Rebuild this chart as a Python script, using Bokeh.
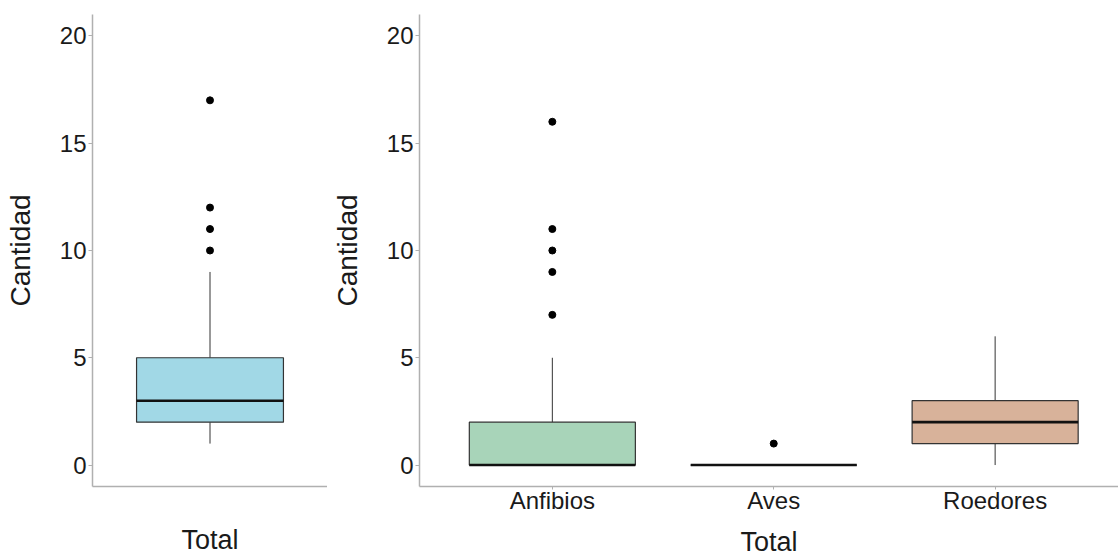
from bokeh.plotting import figure
from bokeh.layouts import row
from bokeh.models import Range1d, FixedTicker
from bokeh.embed import file_html
from bokeh.resources import INLINE

# ---- data ----
left_categories = ["Total"]
left_q1 = [2]
left_median = [3]
left_q3 = [5]
left_lower = [1]
left_upper = [9]
left_outliers = {"Total": [10, 11, 12, 17]}
left_colors = ["#A1D8E6"]

right_categories = ["Anfibios", "Aves", "Roedores"]
right_q1 = [0, 0, 1]
right_median = [0, 0, 2]
right_q3 = [2, 0, 3]
right_lower = [0, 0, 0]
right_upper = [5, 0, 6]
right_outliers = {"Anfibios": [7, 9, 10, 11, 16], "Aves": [1], "Roedores": []}
right_colors = ["#A8D4B9", "#A8D4B9", "#D8B29A"]

y_ticks = [0, 5, 10, 15, 20]
y_label = "Cantidad"
x_label = "Total"

FONT = "Liberation Sans"
TEXT_COLOR = "#1A1A1A"
AXIS_COLOR = "#B0B0B0"
BOX_W = 0.75


def make_panel(cats, q1, med, q3, lo, hi, outl, colors, frame_w, x_end,
               min_left, min_right, show_ticks):
    p = figure(frame_width=frame_w, frame_height=472,
               x_range=Range1d(0.4, x_end), y_range=Range1d(-1, 21),
               output_backend="svg", toolbar_location=None,
               min_border_left=min_left, min_border_right=min_right,
               min_border_top=14, min_border_bottom=70,
               background_fill_color="white", border_fill_color="white")
    p.outline_line_color = None
    p.xgrid.visible = False
    p.ygrid.visible = False

    xs = [i + 1 for i in range(len(cats))]
    # whiskers
    p.segment(x0=xs, y0=q3, x1=xs, y1=hi, line_color="#333333", line_width=1)
    p.segment(x0=xs, y0=lo, x1=xs, y1=q1, line_color="#333333", line_width=1)
    # boxes
    p.vbar(x=xs, width=BOX_W, bottom=q1, top=q3, fill_color=colors,
           line_color="#333333", line_width=1.2)
    # medians
    p.segment(x0=[x - BOX_W / 2 for x in xs], y0=med,
              x1=[x + BOX_W / 2 for x in xs], y1=med,
              line_color="#111111", line_width=2.6)
    # outliers
    ox, oy = [], []
    for x, c in zip(xs, cats):
        for v in outl.get(c, []):
            ox.append(x)
            oy.append(v)
    p.scatter(ox, oy, size=7, fill_color="black", line_color="black")

    # y axis
    ya = p.yaxis[0]
    ya.ticker = FixedTicker(ticks=y_ticks)
    ya.minor_tick_line_color = None
    ya.major_tick_in = 0
    ya.major_tick_out = 4
    ya.major_label_standoff = 2
    ya.axis_line_color = AXIS_COLOR
    ya.axis_line_width = 1.5
    ya.major_tick_line_color = AXIS_COLOR
    ya.major_label_text_font = FONT
    ya.major_label_text_font_size = "24px"
    ya.major_label_text_color = TEXT_COLOR
    ya.axis_label = y_label
    ya.axis_label_text_font = FONT
    ya.axis_label_text_font_size = "28px"
    ya.axis_label_text_font_style = "normal"
    ya.axis_label_text_color = TEXT_COLOR
    ya.axis_label_standoff = 21

    # x axis
    xa = p.xaxis[0]
    xa.minor_tick_line_color = None
    xa.axis_line_color = AXIS_COLOR
    xa.axis_line_width = 1.5
    xa.axis_label = x_label
    xa.axis_label_text_font = FONT
    xa.axis_label_text_font_size = "27px"
    xa.axis_label_text_font_style = "normal"
    xa.axis_label_text_color = TEXT_COLOR
    if show_ticks:
        xa.ticker = FixedTicker(ticks=xs)
        xa.major_label_overrides = {x: c for x, c in zip(xs, cats)}
        xa.major_tick_in = 0
        xa.major_tick_out = 3
        xa.major_tick_line_color = AXIS_COLOR
        xa.major_label_standoff = -3
        xa.major_label_text_font = FONT
        xa.major_label_text_font_size = "24px"
        xa.major_label_text_color = TEXT_COLOR
        xa.axis_label_standoff = 10
    else:
        xa.ticker = FixedTicker(ticks=[])
        xa.major_tick_out = 0
        xa.major_label_standoff = 0
        xa.major_tick_line_color = None
        xa.axis_label_standoff = 38
    return p


p1 = make_panel(left_categories, left_q1, left_median, left_q3, left_lower,
                left_upper, left_outliers, left_colors,
                frame_w=235, x_end=1.6, min_left=92, min_right=0,
                show_ticks=False)
p2 = make_panel(right_categories, right_q1, right_median, right_q3, right_lower,
                right_upper, right_outliers, right_colors,
                frame_w=699, x_end=0.4 + 699 / 221.4, min_left=92, min_right=0,
                show_ticks=True)

layout = row(p1, p2)
open("out.html", "w").write(file_html(layout, INLINE))
